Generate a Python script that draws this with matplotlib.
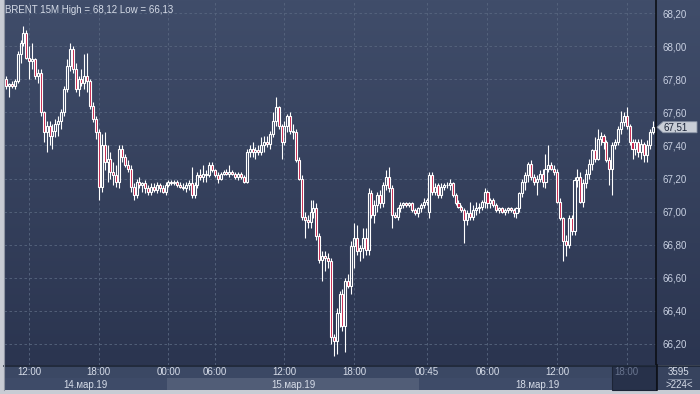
import matplotlib
matplotlib.use("Agg")
import matplotlib.pyplot as plt
import numpy as np
from matplotlib.colors import LinearSegmentedColormap
from matplotlib.patches import Rectangle, Polygon

plt.rcParams['font.family'] = ['Liberation Sans', 'DejaVu Sans']

# ---------------- data ----------------
symbol = "BRENT"
timeframe = "15M"

opens = [
    67.80, 67.76, 67.77, 67.76, 67.79, 67.95, 68.02, 68.08, 67.93, 67.91,
    67.92, 67.82, 67.84, 67.60, 67.48, 67.52, 67.46, 67.49, 67.53, 67.55,
    67.60, 67.74, 67.88, 67.98, 67.86, 67.74, 67.80, 67.78, 67.82, 67.79,
    67.64, 67.56, 67.48, 67.15, 67.40, 67.30, 67.32, 67.24, 67.22, 67.18,
    67.38, 67.33, 67.28, 67.26, 67.15, 67.10, 67.18, 67.16, 67.17, 67.14,
    67.12, 67.15, 67.13, 67.16, 67.14, 67.12, 67.16, 67.18, 67.17, 67.18,
    67.16, 67.15, 67.14, 67.16, 67.17, 67.10, 67.16, 67.22, 67.21, 67.23,
    67.22, 67.28, 67.25, 67.22, 67.20, 67.23, 67.24, 67.23, 67.24, 67.23,
    67.21, 67.23, 67.21, 67.18, 67.36, 67.38, 67.36, 67.37, 67.36, 67.40,
    67.42, 67.41, 67.47, 67.55, 67.63, 67.52, 67.42, 67.52, 67.58, 67.49,
    67.48, 67.31, 67.20, 66.97, 66.95, 66.94, 67.00, 67.02, 66.85, 66.71,
    66.73, 66.72, 66.70, 66.24, 66.22, 66.39, 66.50, 66.31, 66.58, 66.55,
    66.79, 66.84, 66.76, 66.78, 66.84, 66.77, 67.11, 66.98, 67.04, 67.10,
    67.05, 67.16, 67.21, 67.14, 66.98, 66.97, 67.02, 67.04, 67.05, 67.04,
    67.05, 67.01, 66.99, 67.02, 67.04, 67.06, 67.00, 67.22, 67.12, 67.16,
    67.10, 67.15, 67.16, 67.16, 67.17, 67.10, 67.05, 67.03, 67.01, 66.95,
    66.99, 66.97, 67.01, 67.02, 67.03, 67.06, 67.12, 67.05, 67.07, 67.04,
    67.01, 67.02, 67.00, 67.01, 67.02, 67.01, 66.99, 67.02, 67.11, 67.18,
    67.22, 67.29, 67.21, 67.18, 67.20, 67.23, 67.18, 67.26, 67.28, 67.26,
    67.24, 67.06, 66.96, 66.82, 66.80, 66.96, 66.88, 67.19, 67.21, 67.06,
    67.17, 67.23, 67.29, 67.37, 67.32, 67.44, 67.46, 67.42, 67.31, 67.26,
    67.40, 67.42, 67.50, 67.54, 67.58, 67.52, 67.42, 67.38, 67.42, 67.36,
    67.41, 67.34, 67.40, 67.48,
]
highs = [
    67.82, 67.78, 67.79, 67.80, 67.97, 68.04, 68.12, 68.10, 68.00, 68.02,
    67.93, 67.86, 67.86, 67.61, 67.55, 67.55, 67.53, 67.56, 67.58, 67.62,
    67.76, 67.92, 68.02, 68.00, 67.90, 67.82, 67.86, 67.95, 67.96, 67.80,
    67.66, 67.58, 67.50, 67.47, 67.48, 67.40, 67.36, 67.30, 67.28, 67.40,
    67.40, 67.35, 67.31, 67.28, 67.17, 67.20, 67.21, 67.18, 67.19, 67.16,
    67.17, 67.17, 67.18, 67.17, 67.16, 67.18, 67.19, 67.19, 67.19, 67.19,
    67.18, 67.17, 67.18, 67.19, 67.27, 67.18, 67.24, 67.26, 67.28, 67.25,
    67.30, 67.30, 67.26, 67.24, 67.24, 67.25, 67.26, 67.28, 67.25, 67.24,
    67.24, 67.24, 67.22, 67.38, 67.40, 67.42, 67.39, 67.40, 67.45, 67.46,
    67.46, 67.49, 67.60, 67.69, 67.64, 67.53, 67.55, 67.59, 67.60, 67.53,
    67.50, 67.33, 67.22, 67.00, 66.98, 67.07, 67.07, 67.05, 66.87, 66.76,
    66.76, 66.75, 66.72, 66.26, 66.42, 66.52, 66.53, 66.60, 66.62, 66.82,
    66.93, 66.92, 66.80, 66.90, 66.90, 67.14, 67.13, 67.07, 67.12, 67.13,
    67.18, 67.25, 67.27, 67.16, 67.00, 67.03, 67.06, 67.06, 67.06, 67.06,
    67.06, 67.02, 67.03, 67.05, 67.08, 67.08, 67.24, 67.24, 67.17, 67.17,
    67.17, 67.17, 67.18, 67.20, 67.18, 67.11, 67.07, 67.04, 67.02, 67.01,
    67.06, 67.04, 67.06, 67.05, 67.07, 67.14, 67.13, 67.08, 67.08, 67.05,
    67.03, 67.03, 67.02, 67.03, 67.03, 67.02, 67.03, 67.12, 67.20, 67.24,
    67.30, 67.31, 67.23, 67.22, 67.25, 67.26, 67.35, 67.40, 67.30, 67.28,
    67.26, 67.08, 66.97, 66.86, 66.98, 66.98, 67.21, 67.26, 67.24, 67.20,
    67.26, 67.32, 67.38, 67.45, 67.50, 67.48, 67.47, 67.43, 67.33, 67.42,
    67.44, 67.52, 67.61, 67.60, 67.63, 67.53, 67.44, 67.44, 67.44, 67.44,
    67.42, 67.43, 67.50, 67.55,
]
lows = [
    67.74, 67.69, 67.75, 67.74, 67.78, 67.90, 68.00, 67.92, 67.80, 67.86,
    67.80, 67.78, 67.58, 67.42, 67.36, 67.40, 67.38, 67.45, 67.46, 67.50,
    67.58, 67.72, 67.85, 67.84, 67.72, 67.70, 67.76, 67.74, 67.72, 67.62,
    67.54, 67.44, 67.07, 67.12, 67.25, 67.18, 67.20, 67.16, 67.15, 67.14,
    67.30, 67.27, 67.24, 67.12, 67.07, 67.08, 67.14, 67.12, 67.11, 67.10,
    67.10, 67.12, 67.11, 67.12, 67.11, 67.10, 67.15, 67.16, 67.16, 67.15,
    67.14, 67.13, 67.12, 67.13, 67.08, 67.08, 67.14, 67.19, 67.18, 67.18,
    67.21, 67.24, 67.21, 67.17, 67.19, 67.22, 67.22, 67.21, 67.22, 67.20,
    67.19, 67.20, 67.17, 67.17, 67.33, 67.33, 67.32, 67.34, 67.34, 67.36,
    67.39, 67.38, 67.45, 67.52, 67.50, 67.32, 67.40, 67.48, 67.47, 67.44,
    67.30, 67.19, 66.95, 66.84, 66.90, 66.90, 66.96, 66.83, 66.69, 66.58,
    66.64, 66.66, 66.20, 66.13, 66.14, 66.30, 66.28, 66.15, 66.54, 66.50,
    66.66, 66.74, 66.70, 66.72, 66.74, 66.74, 66.96, 66.93, 67.00, 67.02,
    67.03, 67.13, 67.12, 66.90, 66.96, 66.95, 67.00, 67.02, 67.03, 67.03,
    67.00, 66.98, 66.97, 67.00, 67.02, 67.04, 66.96, 67.10, 67.10, 67.08,
    67.08, 67.13, 67.14, 67.13, 67.09, 67.04, 67.02, 67.00, 66.81, 66.92,
    66.95, 66.95, 66.98, 66.99, 67.01, 67.02, 67.02, 67.02, 67.03, 67.00,
    66.99, 66.99, 66.98, 66.99, 67.00, 66.97, 66.96, 67.00, 67.09, 67.13,
    67.18, 67.19, 67.16, 67.10, 67.18, 67.15, 67.14, 67.24, 67.25, 67.22,
    67.05, 66.95, 66.70, 66.73, 66.78, 66.86, 66.86, 67.15, 67.05, 67.03,
    67.14, 67.20, 67.25, 67.30, 67.31, 67.40, 67.38, 67.30, 67.16, 67.10,
    67.38, 67.40, 67.47, 67.52, 67.50, 67.40, 67.32, 67.34, 67.33, 67.32,
    67.30, 67.30, 67.38, 67.47,
]
closes = [
    67.76, 67.77, 67.76, 67.79, 67.95, 68.02, 68.08, 67.93, 67.91, 67.92,
    67.82, 67.84, 67.60, 67.48, 67.52, 67.46, 67.49, 67.53, 67.55, 67.60,
    67.74, 67.88, 67.98, 67.86, 67.74, 67.80, 67.78, 67.82, 67.79, 67.64,
    67.56, 67.48, 67.15, 67.40, 67.30, 67.32, 67.24, 67.22, 67.18, 67.38,
    67.33, 67.28, 67.26, 67.15, 67.10, 67.18, 67.16, 67.17, 67.14, 67.12,
    67.15, 67.13, 67.16, 67.14, 67.12, 67.16, 67.18, 67.17, 67.18, 67.16,
    67.15, 67.14, 67.16, 67.17, 67.10, 67.16, 67.22, 67.21, 67.23, 67.22,
    67.28, 67.25, 67.22, 67.20, 67.23, 67.24, 67.23, 67.24, 67.23, 67.21,
    67.23, 67.21, 67.18, 67.36, 67.38, 67.36, 67.37, 67.36, 67.40, 67.42,
    67.41, 67.47, 67.55, 67.63, 67.52, 67.42, 67.52, 67.58, 67.49, 67.48,
    67.31, 67.20, 66.97, 66.95, 66.94, 67.00, 67.02, 66.85, 66.71, 66.73,
    66.72, 66.70, 66.24, 66.22, 66.39, 66.50, 66.31, 66.58, 66.55, 66.79,
    66.84, 66.76, 66.78, 66.84, 66.77, 67.11, 66.98, 67.04, 67.10, 67.05,
    67.16, 67.21, 67.14, 66.98, 66.97, 67.02, 67.04, 67.05, 67.04, 67.05,
    67.01, 66.99, 67.02, 67.04, 67.06, 67.07, 67.22, 67.12, 67.15, 67.10,
    67.15, 67.16, 67.16, 67.17, 67.10, 67.05, 67.03, 67.01, 66.95, 66.99,
    66.97, 67.01, 67.02, 67.03, 67.06, 67.12, 67.05, 67.07, 67.04, 67.01,
    67.02, 67.00, 67.01, 67.02, 67.01, 66.99, 67.02, 67.11, 67.18, 67.22,
    67.29, 67.21, 67.18, 67.20, 67.23, 67.18, 67.26, 67.28, 67.26, 67.24,
    67.06, 66.96, 66.82, 66.80, 66.96, 66.88, 67.19, 67.21, 67.06, 67.17,
    67.23, 67.29, 67.37, 67.32, 67.44, 67.46, 67.42, 67.31, 67.26, 67.40,
    67.42, 67.50, 67.54, 67.58, 67.52, 67.42, 67.38, 67.42, 67.36, 67.41,
    67.34, 67.40, 67.48, 67.51,
]

time_tick_idx = [8, 32, 56, 72, 96, 120, 145, 166, 190, 214]
time_tick_labels = ["12:00", "18:00", "00:00", "06:00", "12:00", "18:00",
                    "00:45", "06:00", "12:00", "18:00"]
day_start_idx = [0, 56, 143]
day_labels = ["14.мар.19", "15.мар.19", "18.мар.19"]
price_ticks = [66.2, 66.4, 66.6, 66.8, 67.0, 67.2, 67.4, 67.6, 67.8, 68.0, 68.2]
bars_total = "3595"
bars_visible = ">224<"


def fmt(v):
    return f"{v:.2f}".replace('.', ',')


# ---------------- figure ----------------
W, H = 700, 394
fig = plt.figure(figsize=(W / 100, H / 100), dpi=100)
fig.patch.set_facecolor('#c8ccd4')


def frac(x0, y0, x1, y1):
    return [x0 / W, 1 - y1 / H, (x1 - x0) / W, (y1 - y0) / H]


PL, PR, PB = 4, 656, 365
TXT = '#d6dce8'
FS = 7.0

# gradient background (plot + price column)
bg = fig.add_axes(frac(PL, 0, W, PB))
grad = np.linspace(0, 1, 256).reshape(-1, 1)
cmap = LinearSegmentedColormap.from_list('bg', ['#404d6a', '#2b3550'])
bg.imshow(grad, aspect='auto', cmap=cmap, extent=[0, 1, 0, 1], origin='upper')
bg.axis('off')

ax = fig.add_axes(frac(PL, 0, PR, PB))
ax.patch.set_alpha(0)
n = len(closes)
x = np.arange(n)
ax.set_xlim(-0.7, n + 0.1)
ax.set_ylim(66.073, 68.279)

ax.set_yticks(price_ticks)
ax.set_yticklabels([fmt(v) for v in price_ticks])
ax.yaxis.tick_right()
ax.tick_params(axis='y', length=0, pad=5, labelsize=FS, labelcolor='#c9d1e2')
ax.set_xticks(time_tick_idx)
ax.tick_params(axis='x', length=0, labelbottom=False)
ax.grid(True, color='#58667f', linestyle=(0, (3, 3)), linewidth=0.6)
ax.set_axisbelow(True)
for s in ['top', 'left', 'bottom']:
    ax.spines[s].set_visible(False)
ax.spines['right'].set_color('#0c0f16')
ax.spines['right'].set_linewidth(1.2)

o = np.array(opens)
c = np.array(closes)
h = np.array(highs)
l = np.array(lows)
up = c >= o
blo = np.minimum(o, c)
bhi = np.maximum(o, c)
lw = 0.8
ax.vlines(x, l, blo, color='white', lw=lw, zorder=3)
ax.vlines(x, bhi, h, color='white', lw=lw, zorder=3)
ax.bar(x[up], (bhi - blo)[up], bottom=blo[up], width=0.7,
       facecolor='none', edgecolor='white', linewidth=lw, zorder=4)
ax.bar(x[~up], (bhi - blo)[~up], bottom=blo[~up], width=0.7,
       facecolor='#c41c44', edgecolor='white', linewidth=lw, zorder=4)

# ---------------- overlay in pixel coords ----------------
ov = fig.add_axes([0, 0, 1, 1])
ov.set_xlim(0, W)
ov.set_ylim(H, 0)
ov.axis('off')
ov.patch.set_alpha(0)


def px(i):
    return ax.transData.transform((i, 0))[0]


def py(v):
    return H - ax.transData.transform((0, v))[1]


# title
ov.text(5, 10, f"{symbol} {timeframe} High = {fmt(max(highs))} Low = {fmt(min(lows))}",
        fontsize=FS, color=TXT, va='center', ha='left')

# time axis background
ov.add_patch(Rectangle((PL, PB), PR - PL, 25, facecolor='#3b4864', edgecolor='none'))
edges = [PL] + [px(i - 0.5) for i in day_start_idx[1:]] + [PR]
band_cols = ['#3e4b68', '#515d77']
for k, lab in enumerate(day_labels):
    ov.add_patch(Rectangle((edges[k], 378), edges[k + 1] - edges[k], 12,
                           facecolor=band_cols[k % 2], edgecolor='none'))
    ov.text((edges[k] + edges[k + 1]) / 2, 384.5, lab, fontsize=FS, color=TXT,
            ha='center', va='center')

# current-session box
box_x = px(time_tick_idx[-1] - 5)
ov.add_patch(Rectangle((box_x, 366), PR - box_x, 24, facecolor='#27314a',
                       edgecolor='#1c2436', linewidth=0.8))
for i, lab in zip(time_tick_idx, time_tick_labels):
    col = '#68748e' if i == time_tick_idx[-1] else TXT
    ov.text(px(i), 372, lab, fontsize=FS, color=col, ha='center', va='center')

ov.plot([PL, W], [PB + 0.5, PB + 0.5], color='#1d2636', lw=1.2)

# right-bottom info box
ov.add_patch(Rectangle((PR + 1, 366), W - PR - 1, 24, facecolor='#37435e', edgecolor='none'))
ov.plot([PR + 0.5, PR + 0.5], [PB, 390], color='#0c0f16', lw=1.2)
ov.text(679, 372, bars_total, fontsize=FS, color=TXT, ha='center', va='center')
ov.plot([668, 691], [378.5, 378.5], color='#8791a6', lw=0.6)
ov.text(679, 384.5, bars_visible, fontsize=FS, color=TXT, ha='center', va='center')

# current price marker
yc = py(closes[-1])
ov.add_patch(Polygon([(657, yc), (663, yc - 5.5), (697, yc - 5.5), (697, yc + 5.5), (663, yc + 5.5)],
                     closed=True, facecolor='#c9ced7', edgecolor='#8a93a6', linewidth=0.6))
ov.text(664, yc + 0.3, fmt(closes[-1]), fontsize=FS, color='#1b2438', ha='left', va='center')

# left frame line
ov.plot([3.5, 3.5], [0, 390], color='#8e95a2', lw=0.8)

fig.savefig("out.png", dpi=100, facecolor=fig.get_facecolor())
